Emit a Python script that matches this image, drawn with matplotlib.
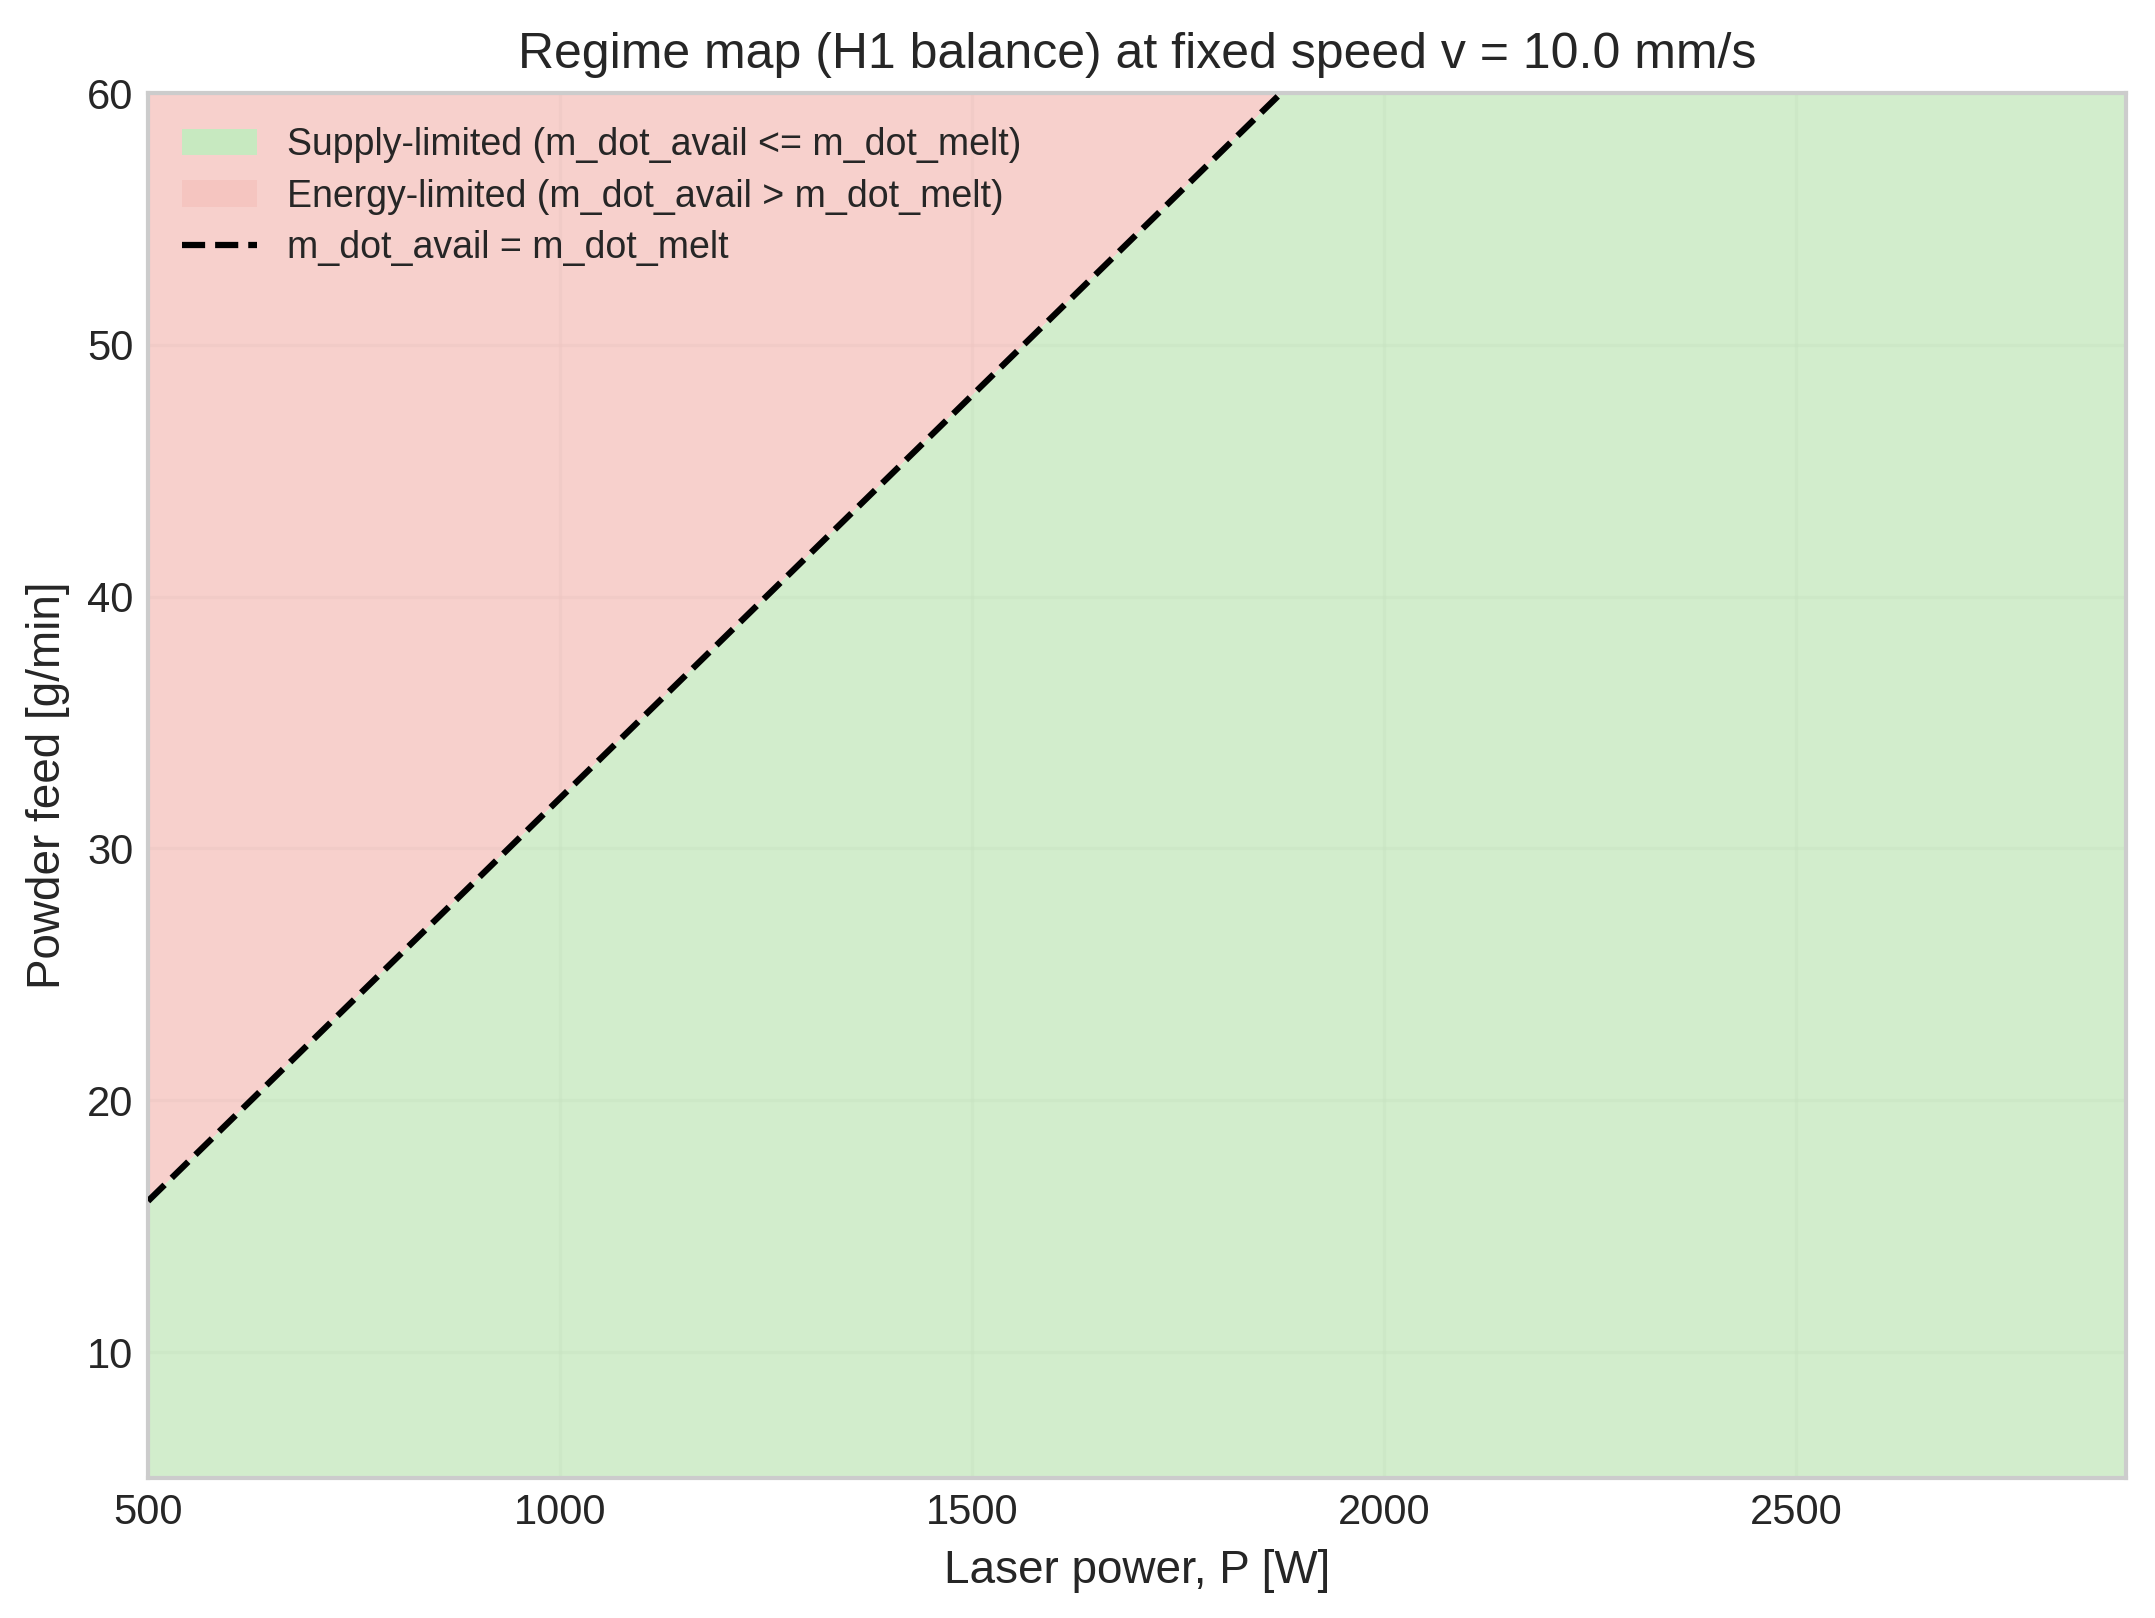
import matplotlib
matplotlib.use("Agg")
import matplotlib.pyplot as plt
from matplotlib.patches import Patch
from matplotlib.lines import Line2D
import numpy as np

plt.style.use("seaborn-v0_8-whitegrid")
plt.rcParams['font.family'] = ['Liberation Sans', 'DejaVu Sans']

# boundary m_dot_avail = m_dot_melt
P_line = np.array([500.0, 2900.0])        # W
feed_line = np.array([16.0, 92.8])        # g/min

P_lim = (500, 2900)
feed_lim = (5, 60)
speed = 10.0

green = '#c7e9c0'
red = '#f5c5c0'

fig, ax = plt.subplots(figsize=(2155/300, 1618/300), dpi=300)

# energy-limited above the line, supply-limited below
ax.fill_between(P_line, feed_line, 200, color=red, alpha=0.8, lw=0, zorder=1)
ax.fill_between(P_line, 0, feed_line, color=green, alpha=0.8, lw=0, zorder=1)
ax.plot(P_line, feed_line, 'k--', lw=1.5, zorder=3)

ax.set_xlim(*P_lim)
ax.set_ylim(*feed_lim)
ax.set_yticks([10, 20, 30, 40, 50, 60])
ax.grid(True, alpha=0.5, zorder=0)
ax.set_axisbelow(True)
for s in ax.spines.values():
    s.set_visible(True)
    s.set_color('#cccccc')
    s.set_linewidth(1.0)

ax.set_xlabel("Laser power, P [W]", fontsize=11)
ax.set_ylabel("Powder feed [g/min]", fontsize=11)
ax.set_title(f"Regime map (H1 balance) at fixed speed v = {speed:.1f} mm/s", fontsize=12)
ax.tick_params(labelsize=10)

handles = [Patch(facecolor=green, label="Supply-limited (m_dot_avail <= m_dot_melt)"),
           Patch(facecolor=red, label="Energy-limited (m_dot_avail > m_dot_melt)"),
           Line2D([], [], color='k', ls='--', lw=1.5, label="m_dot_avail = m_dot_melt")]
ax.legend(handles=handles, loc='upper left', fontsize=9, frameon=False, labelspacing=0.42)

fig.subplots_adjust(left=0.0687, right=0.9865, top=0.9425, bottom=0.0865)
fig.savefig("out.png", dpi=300)
